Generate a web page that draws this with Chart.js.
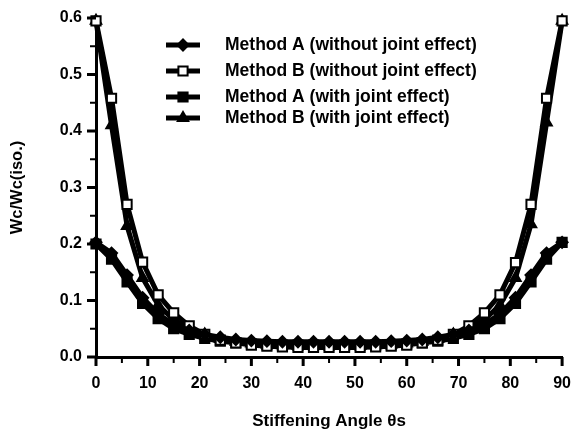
<!DOCTYPE html>
<html>
<head>
<meta charset="utf-8">
<script src="https://cdn.jsdelivr.net/npm/chart.js@4.4.1/dist/chart.umd.min.js"></script>
<style>
  html, body { margin: 0; padding: 0; background: #fff; }
  #wrap { width: 581px; height: 437px; }
</style>
</head>
<body>
<div id="wrap"><canvas id="chart"></canvas></div>
<script>
// stiffening angle (deg)
const angles = [0, 3, 6, 9, 12, 15, 18, 21, 24, 27, 30, 33, 36, 39, 42, 45,
                48, 51, 54, 57, 60, 63, 66, 69, 72, 75, 78, 81, 84, 87, 90];

const methodANoJoint = [0.203, 0.184, 0.145, 0.105, 0.076, 0.058, 0.047, 0.040, 0.035, 0.031, 0.029,
                        0.028, 0.027, 0.027, 0.027, 0.027, 0.027, 0.027, 0.027, 0.028, 0.029,
                        0.031, 0.035, 0.040, 0.047, 0.058, 0.076, 0.105, 0.145, 0.184, 0.203];
const methodBNoJoint = [0.595, 0.458, 0.270, 0.168, 0.110, 0.078, 0.055, 0.040, 0.030, 0.025, 0.021,
                        0.019, 0.018, 0.017, 0.017, 0.017, 0.017, 0.017, 0.018, 0.019, 0.021,
                        0.025, 0.030, 0.040, 0.055, 0.078, 0.110, 0.167, 0.270, 0.458, 0.595];
const methodAJoint   = [0.200, 0.173, 0.133, 0.095, 0.068, 0.050, 0.040, 0.033, 0.028, 0.025, 0.023,
                        0.022, 0.021, 0.021, 0.021, 0.021, 0.021, 0.021, 0.021, 0.022, 0.023,
                        0.025, 0.028, 0.033, 0.040, 0.050, 0.068, 0.095, 0.133, 0.173, 0.203];
const methodBJoint   = [0.595, 0.410, 0.232, 0.140, 0.092, 0.066, 0.050, 0.040, 0.032, 0.027, 0.024,
                        0.022, 0.021, 0.020, 0.020, 0.020, 0.020, 0.020, 0.021, 0.022, 0.024,
                        0.027, 0.032, 0.040, 0.050, 0.066, 0.092, 0.140, 0.235, 0.415, 0.595];

const labels = [
  "Method A (without joint effect)",
  "Method B (without joint effect)",
  "Method A (with joint effect)",
  "Method B (with joint effect)"
];

const xTicks = [0, 10, 20, 30, 40, 50, 60, 70, 80, 90];
const yTicks = [0.0, 0.1, 0.2, 0.3, 0.4, 0.5, 0.6];

const FONT = "'Liberation Sans', Arial, Helvetica, sans-serif";

function pts(values) {
  return angles.map((a, i) => ({ x: a, y: values[i] }));
}

function line(label, values, style, radius, fill) {
  return {
    label: label,
    data: pts(values),
    borderColor: "#000",
    borderWidth: 5,
    pointStyle: style,
    pointRadius: radius,
    pointBackgroundColor: fill,
    pointBorderColor: "#000",
    pointBorderWidth: 2,
    tension: 0,
    clip: 12
  };
}

// outward tick marks, long on labelled values, short in between
const axisTicks = {
  id: "axisTicks",
  afterDraw(chart) {
    const ctx = chart.ctx;
    const area = chart.chartArea;
    const sx = chart.scales.x;
    const sy = chart.scales.y;
    ctx.save();
    ctx.fillStyle = "#000";
    for (let v = 0; v <= 90; v += 5) {
      const major = v % 10 === 0;
      const px = sx.getPixelForValue(v);
      const w = major ? 3 : 2;
      ctx.fillRect(px - w / 2, area.bottom, w, major ? 9 : 6);
    }
    for (let k = 0; k <= 12; k++) {
      const major = k % 2 === 0;
      const py = sy.getPixelForValue(k * 0.05);
      const h = major ? 3 : 2;
      const len = major ? 9 : 6;
      ctx.fillRect(area.left - len, py - h / 2, len, h);
    }
    ctx.restore();
  }
};

// legend drawn inside the plot, line + marker like the original
const legendInside = {
  id: "legendInside",
  afterDraw(chart) {
    const ctx = chart.ctx;
    const rows = [45, 71, 97, 118];
    const mx = 183;
    chart.data.datasets.forEach((ds, i) => {
      const y = rows[i];
      ctx.save();
      ctx.strokeStyle = "#000";
      ctx.lineWidth = 5;
      ctx.beginPath();
      ctx.moveTo(mx - 17, y);
      ctx.lineTo(mx + 17, y);
      ctx.stroke();
      ctx.fillStyle = ds.pointBackgroundColor;
      ctx.strokeStyle = "#000";
      ctx.lineWidth = 2;
      Chart.helpers.drawPoint(ctx, {
        pointStyle: ds.pointStyle,
        radius: ds.pointRadius,
        borderWidth: 2,
        rotation: 0
      }, mx, y);
      ctx.fillStyle = "#000";
      ctx.font = "bold 17.5px " + FONT;
      ctx.textBaseline = "middle";
      ctx.fillText(ds.label, 225, y);
      ctx.restore();
    });
  }
};

new Chart(document.getElementById("chart"), {
  type: "line",
  data: {
    datasets: [
      line(labels[0], methodANoJoint, "rectRot", 5.5, "#000"),
      line(labels[1], methodBNoJoint, "rect", 6.5, "#fff"),
      line(labels[2], methodAJoint, "rect", 6.5, "#000"),
      line(labels[3], methodBJoint, "triangle", 6, "#000")
    ]
  },
  options: {
    responsive: true,
    maintainAspectRatio: false,
    animation: false,
    layout: { padding: { top: 18, right: 12, left: 0, bottom: 0 } },
    plugins: {
      legend: { display: false },
      tooltip: { enabled: false }
    },
    scales: {
      x: {
        type: "linear",
        min: 0,
        max: 90,
        afterFit: s => { s.height = 80; },
        afterBuildTicks: s => {
          const t = [];
          for (let v = 0; v <= 90; v += 5) t.push({ value: v });
          s.ticks = t;
        },
        ticks: {
          color: "#000",
          font: { family: FONT, size: 16, weight: "bold" },
          padding: 10,
          maxRotation: 0,
          autoSkip: false,
          callback: v => xTicks.includes(v) ? String(v) : ""
        },
        grid: {
          drawOnChartArea: false,
          drawTicks: true,
          tickLength: 7,
          tickColor: "rgba(0,0,0,0)"
        },
        border: { color: "#000", width: 3 },
        title: {
          display: true,
          text: "Stiffening Angle θs",
          color: "#000",
          font: { family: FONT, size: 17, weight: "bold" },
          padding: { top: 0, bottom: 5 }
        }
      },
      y: {
        min: 0,
        max: 0.6,
        afterFit: s => { s.width = 96; },
        afterBuildTicks: s => {
          const t = [];
          for (let k = 0; k <= 12; k++) t.push({ value: k * 0.05 });
          s.ticks = t;
        },
        ticks: {
          color: "#000",
          font: { family: FONT, size: 16, weight: "bold" },
          padding: 5,
          autoSkip: false,
          callback: v => {
            const k = Math.round(v * 100);
            return k % 10 === 0 ? yTicks[k / 10].toFixed(1) : "";
          }
        },
        grid: {
          drawOnChartArea: false,
          drawTicks: true,
          tickLength: 9,
          tickColor: "rgba(0,0,0,0)"
        },
        border: { color: "#000", width: 3 },
        title: {
          display: true,
          text: "Wc/Wc(iso.)",
          color: "#000",
          font: { family: FONT, size: 16.5, weight: "bold" },
          padding: { top: 8, bottom: 4 }
        }
      }
    }
  },
  plugins: [legendInside, axisTicks]
});
</script>
</body>
</html>
